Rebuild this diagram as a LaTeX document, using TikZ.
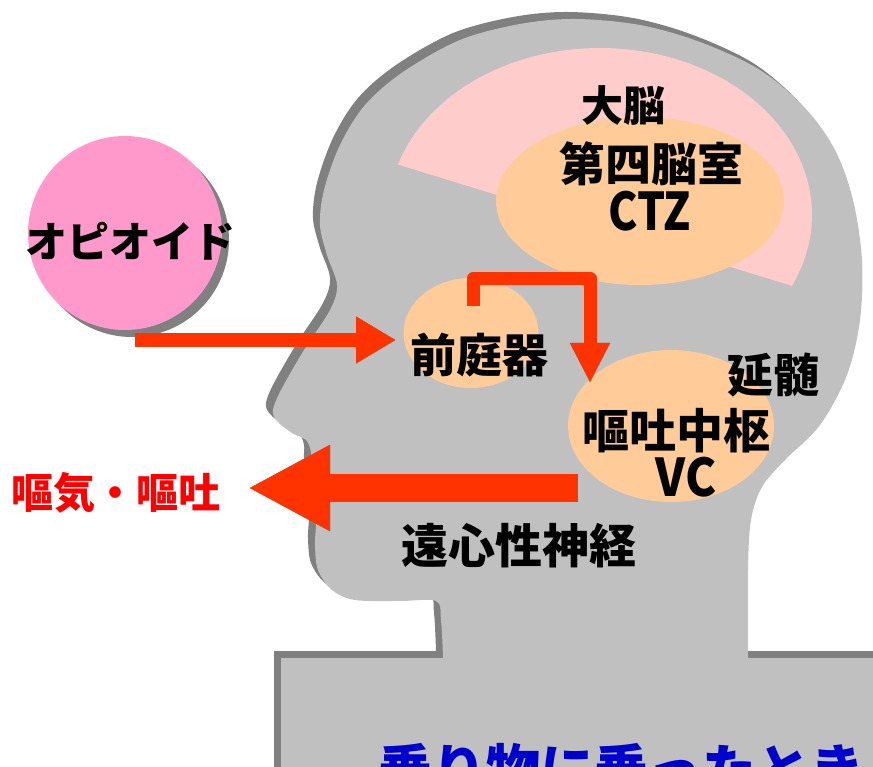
\documentclass[tikz,border=0pt]{standalone}
\usepackage{fontspec}
\newfontfamily\jp[BoldFont={Noto Sans CJK JP Black}]{Noto Sans CJK JP}
\usetikzlibrary{arrows.meta,shapes.geometric}

\definecolor{headgray}{HTML}{C0C0C0}
\definecolor{shadowgray}{HTML}{808080}
\definecolor{brainpink}{HTML}{FFCCCC}
\definecolor{zone}{HTML}{FFCC99}
\definecolor{drug}{HTML}{FF99CC}
\definecolor{flow}{HTML}{FF3300}
\definecolor{alert}{HTML}{FF0000}
\definecolor{caption}{HTML}{0000CC}

\newcommand\fsz[1]{\fontsize{#1}{#1}\selectfont}

\tikzset{
  lbl/.style={inner sep=0pt, font=\jp\bfseries\fsz{#1}},
  lbl/.default=46,
  zonefill/.style={ellipse, fill=zone, draw=none, inner sep=0pt},
  flowthin/.style={line width=14pt, line cap=butt, -{Triangle[length=40pt,width=44pt]}},
  flowbent/.style={line width=13pt, line cap=butt, line join=round, -{Triangle[length=40pt,width=37pt]}},
  flowthick/.style={line width=28pt, line cap=butt, -{Triangle[length=82pt,width=80pt]}},
}

% outline of the head, neck and shoulders
\def\headoutline{(281,800) -- (281,658) -- (443,658) --
  plot[smooth, tension=0.55] coordinates {(443,658) (441,620) (436,601) (400,601)
   (355,600) (332,590) (318,570) (315,545) (316,520) (313,490) (311,465) (311,452)
   (306,440) (292,433) (277,421) (273,410) (281,390) (304,350) (330,310) (337,285)
   (327,255) (320,225) (324,190) (340,145) (365,105) (403,72) (460,40) (520,24)
   (575,19) (640,25) (700,42) (760,70) (805,108) (835,150) (853,200) (862,260)
   (860,320) (847,375) (820,425) (785,460) (762,487) (751,520) (748,570) (748,658)}
  -- (900,658) -- (900,800) -- cycle}

\begin{document}
\begin{tikzpicture}[x=1pt, y=-1pt]
\useasboundingbox (0,0) rectangle (873,767);
\clip (0,0) rectangle (873,767);

% head silhouette with its shadow
\begin{scope}[shift={(-7,-7)}]
  \fill[shadowgray] \headoutline;
\end{scope}
\fill[headgray] \headoutline;

% cerebrum
\fill[brainpink] plot[domain=-25.1:162.4, samples=80]
  ({600+212*cos(\x)}, {215-167*sin(\x)}) -- cycle;

% regions
\node[zonefill, minimum width=288pt, minimum height=168pt] (ctz) at (640,201) {};
\node[zonefill, minimum width=135pt, minimum height=110pt] (vest) at (471,333) {};
\node[zonefill, minimum width=206pt, minimum height=152pt] (vc) at (671,426) {};

% opioid disc
\fill[shadowgray] (132,240) circle (97);
\node[circle, fill=drug, minimum size=194pt, inner sep=0pt] (opi) at (125,233) {};

% labels
\node[lbl=42] (opit) at (130,241) {オピオイド};
\node[lbl=42] (cer) at (623,106) {大脳};
\node[lbl=46] (ctza) at (651,164) {第四脳室};
\node[lbl=52] (ctzb) at (650,211) {\scalebox{0.85}[1]{CTZ}};
\node[lbl=46] (vestt) at (479,355) {前庭器};
\node[lbl=46] (med) at (773,375) {延髄};
\node[lbl=47] (vca) at (676,431) {嘔吐中枢};
\node[lbl=52] (vcb) at (686,477) {\scalebox{0.9}[1]{VC}};
\node[lbl=42, text=alert] (emes) at (116,493) {嘔気・嘔吐};
\node[lbl=47] (eff) at (519,546) {遠心性神経};
\node[lbl=54, text=caption, anchor=base west] (ride) at (378,789) {乗り物に乗ったとき};

% arrow end points
\coordinate (p1) at (135,340);
\coordinate (p2) at (396,340);
\coordinate (q1) at (473,306);
\coordinate (q2) at (473,279);
\coordinate (q3) at (590,279);
\coordinate (q4) at (590,383);
\coordinate (r1) at (578,488);
\coordinate (r2) at (248,488);

% arrow shadows
\begin{scope}[shift={(6,7)}]
  \draw[shadowgray, flowthin] (p1) -- (p2);
  \draw[shadowgray, flowbent] (q1) -- (q2) -- (q3) -- (q4);
  \draw[shadowgray, flowthick] (r1) -- (r2);
\end{scope}

% arrows
\draw[flow, flowthin] (p1) -- (p2);
\draw[flow, flowbent] (q1) -- (q2) -- (q3) -- (q4);
\draw[flow, flowthick] (r1) -- (r2);
\end{tikzpicture}
\end{document}
